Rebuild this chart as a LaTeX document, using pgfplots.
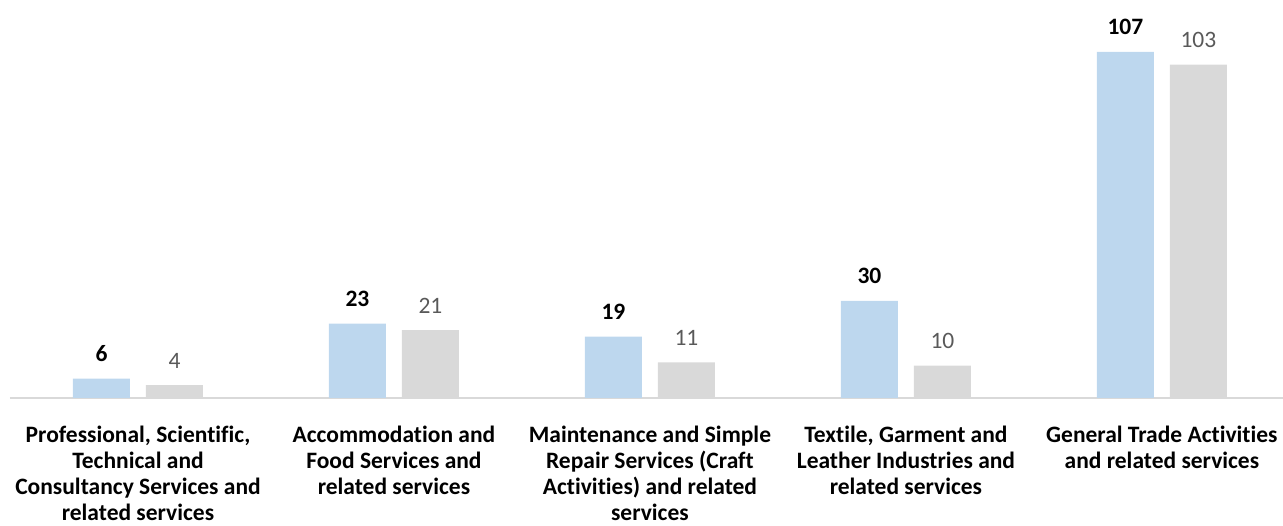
\documentclass[border=0pt]{standalone}
\usepackage{pgfplots}
\pgfplotsset{compat=1.18}
\usepackage{fontspec}
\setmainfont{Carlito}[Ligatures={NoCommon}]
\definecolor{barblue}{RGB}{189,215,238}
\definecolor{bargray}{RGB}{217,217,217}
\definecolor{labgray}{RGB}{89,89,89}
\begin{document}
\begin{tikzpicture}
\path[use as bounding box] (0,0) rectangle (1283pt,526pt);
\begin{axis}[
  at={(10pt,128pt)}, anchor=south west,
  scale only axis,
  width=1273pt, height=398pt,
  xmin=-0.5, xmax=4.473,
  ymin=0, ymax=123,
  clip=false,
  /pgf/number format/assume math mode=true,
  separate axis lines,
  axis x line=bottom,
  axis y line=none,
  x axis line style={-, draw=bargray, line width=2.5pt},
  ytick=\empty,
  xtick={0,1,2,3,4},
  xtick style={draw=none},
  xticklabels={
    {Professional, Scientific,\\Technical and\\Consultancy Services and\\related services},
    {Accommodation and\\Food Services and\\related services},
    {Maintenance and Simple\\Repair Services (Craft\\Activities) and related\\services},
    {Textile, Garment and\\Leather Industries and\\related services},
    {General Trade Activities\\and related services}},
  xticklabel style={align=center, anchor=north, yshift=-20pt,
    font=\fontsize{23.5}{26}\selectfont\bfseries},
  ybar,
  bar width=57pt,
  nodes near coords,
  every node near coord/.append style={anchor=base, yshift=17pt},
]
\addplot[fill=barblue, draw=none, bar shift=-36.5pt,
  nodes near coords style={font=\fontsize{23.5}{26}\selectfont\bfseries, text=black}]
  coordinates {(0,6) (1,23) (2,19) (3,30) (4,107)};
\addplot[fill=bargray, draw=none, bar shift=36.5pt,
  nodes near coords style={font=\fontsize{23.5}{26}\selectfont, text=labgray}]
  coordinates {(0,4) (1,21) (2,11) (3,10) (4,103)};
\end{axis}
\end{tikzpicture}
\end{document}
